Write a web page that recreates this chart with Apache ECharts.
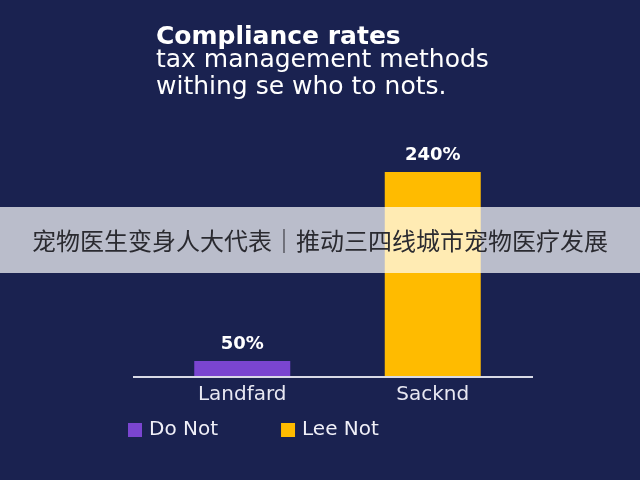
<!DOCTYPE html>
<html>
<head>
<meta charset="utf-8">
<script src="https://cdn.jsdelivr.net/npm/echarts@6/dist/echarts.min.js"></script>
<style>html,body{margin:0;padding:0;background:#1a2250;}#c{width:640px;height:480px;}</style>
</head>
<body>
<div id="c"></div>
<script>
const titleText = 'Compliance rates';
const subtitleText = 'tax management methods\nwithing se who to nots.';
const bannerText = '宠物医生变身人大代表｜推动三四线城市宠物医疗发展';
const categories = ['Landfard', 'Sacknd'];
const seriesNames = ['Do Not', 'Lee Not'];
const doNotValues = [50, '-'];
const leeNotValues = ['-', 240];
const colors = ['#7a45d0', '#ffbb00'];

const FONT = 'DejaVu Sans';
const chart = echarts.init(document.getElementById('c'));
const labelStyle = {
  show: true, position: 'top', distance: 8,
  formatter: '{c}%', color: '#ffffff', fontSize: 18, fontWeight: 'bold',
  fontFamily: FONT
};
chart.setOption({
  backgroundColor: '#1a2250',
  animation: false,
  title: [
    { text: titleText, left: 151, top: 20,
      textStyle: { color: '#ffffff', fontSize: 25, fontWeight: 'bold', fontFamily: FONT } },
    { text: subtitleText, left: 151, top: 42,
      textStyle: { color: '#ffffff', fontSize: 25, fontWeight: 'normal', lineHeight: 27, fontFamily: FONT } }
  ],
  legend: {
    data: seriesNames,
    left: 123, top: 415,
    icon: 'rect', itemWidth: 14, itemHeight: 14, itemGap: 63,
    textStyle: { color: '#f0f0f8', fontSize: 20, fontFamily: FONT, padding: [0, 0, 0, 2] }
  },
  grid: { left: 147, right: 112, top: 172, bottom: 103 },
  xAxis: {
    type: 'category', data: categories,
    axisLine: { show: false },
    axisTick: { show: false },
    axisLabel: { color: '#e8e8f2', fontSize: 20, fontFamily: FONT, margin: 8 }
  },
  yAxis: { type: 'value', min: 34, max: 240, show: false, splitLine: { show: false } },
  series: [
    { name: seriesNames[0], type: 'bar', stack: 's', data: doNotValues, barWidth: 96,
      itemStyle: { color: colors[0] }, label: labelStyle },
    { name: seriesNames[1], type: 'bar', stack: 's', data: leeNotValues, barWidth: 96,
      itemStyle: { color: colors[1] }, label: labelStyle }
  ],
  graphic: [
    { type: 'line', z: 50, shape: { x1: 133, y1: 377, x2: 533, y2: 377 },
      style: { stroke: '#d8dae6', lineWidth: 2 } },
    { type: 'rect', z: 100, shape: { x: 0, y: 207, width: 640, height: 66 },
      style: { fill: 'rgba(255,255,255,0.7)' } },
    { type: 'text', z: 101, x: 320, y: 241,
      style: { text: bannerText, fill: '#2a2a30', fontSize: 24, fontFamily: 'Noto Sans CJK SC',
        align: 'center', verticalAlign: 'middle' } }
  ]
});
</script>
</body>
</html>
